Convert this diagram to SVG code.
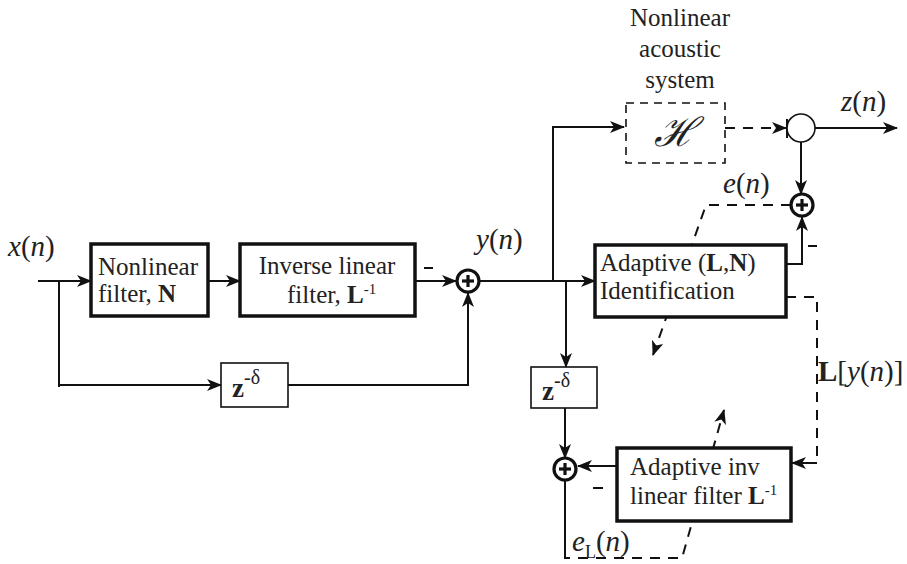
<svg xmlns="http://www.w3.org/2000/svg" width="907" height="564" viewBox="0 0 907 564">
<defs>
<marker id="ah" markerUnits="userSpaceOnUse" markerWidth="16" markerHeight="12" refX="14" refY="6" orient="auto">
<path d="M0,0 L15,6 L0,12 L4,6 Z" fill="#111"/>
</marker>
<style>
.ln{fill:none;stroke:#111;stroke-width:2}
.ds{fill:none;stroke:#111;stroke-width:2;stroke-dasharray:10,8}
.box{fill:#fff;stroke:#111;stroke-width:3.5}
.zb{fill:#fff;stroke:#111;stroke-width:1.6}
.sum{fill:#fff;stroke:#111;stroke-width:3.2}
.pl{stroke:#111;stroke-width:3.2}
text{font-family:'Liberation Serif','Times New Roman',serif;fill:#222}
.t{font-size:25px}
.m{font-size:29px}
.i{font-style:italic}
.b{font-weight:bold}
</style>
</defs>

<g id="connectors">
<line class="ln" x1="38" y1="281" x2="91" y2="281" marker-end="url(#ah)"/>
<polyline class="ln" points="59,281 59,387"/>
<line class="ln" x1="59" y1="385" x2="221" y2="385" marker-end="url(#ah)"/>
<line class="ln" x1="208" y1="281" x2="240" y2="281" marker-end="url(#ah)"/>
<line class="ln" x1="415" y1="281" x2="456" y2="281" marker-end="url(#ah)"/>
<polyline class="ln" points="288,385 468,385 468,293" marker-end="url(#ah)"/>
<line class="ln" x1="480" y1="281" x2="595" y2="281" marker-end="url(#ah)"/>
<polyline class="ln" points="553,281 553,127 624,127" marker-end="url(#ah)"/>
<line class="ln" x1="566" y1="281" x2="566" y2="367" marker-end="url(#ah)"/>
<line class="ln" x1="565" y1="408" x2="565" y2="458" marker-end="url(#ah)"/>
<line class="ln" x1="617" y1="466" x2="578" y2="466" marker-end="url(#ah)"/>
<polyline class="ln" points="565,481 565,558 570,558"/>
<polyline class="ds" points="578,558 682,558 724,410" marker-end="url(#ah)"/>
<polyline class="ln" points="786,264 802,264 802,217" marker-end="url(#ah)"/>
<polyline class="ds" points="791,205 706,205 653,355" marker-end="url(#ah)"/>
<polyline class="ds" points="786,297 817,297 817,463"/>
<line class="ln" x1="817" y1="463" x2="792" y2="463" marker-end="url(#ah)"/>
<line class="ds" x1="725" y1="128" x2="786" y2="128" marker-end="url(#ah)"/>
<line class="ln" x1="787" y1="119" x2="787" y2="138"/>
<line class="ln" x1="815" y1="128" x2="897" y2="128" marker-end="url(#ah)"/>
<line class="ln" x1="801" y1="142" x2="801" y2="194" marker-end="url(#ah)"/>
<line class="ln" x1="424" y1="268" x2="433" y2="268"/>
<line class="ln" x1="593" y1="488" x2="603" y2="488"/>
<line class="ln" x1="808" y1="246" x2="817" y2="246"/>
</g>

<g id="nonlinear-filter">
<rect class="box" x="91" y="244" width="117" height="72"/>
<text class="t" x="98" y="275">Nonlinear</text>
<text class="t" x="98" y="302">filter, <tspan class="b">N</tspan></text>
</g>

<g id="inverse-linear-filter">
<rect class="box" x="240" y="244" width="175" height="72"/>
<text class="t" x="327" y="274" text-anchor="middle">Inverse linear</text>
<text class="t" x="287" y="303">filter, <tspan class="b">L</tspan><tspan font-size="15" dy="-9">-1</tspan></text>
</g>

<g id="delay1">
<rect class="zb" x="221" y="363" width="67" height="44"/>
<text class="t" x="232" y="397"><tspan class="b" font-size="27">z</tspan><tspan font-size="20" dy="-13">-δ</tspan></text>
</g>

<g id="sum1">
<circle class="sum" cx="468" cy="281" r="11"/>
<line class="pl" x1="462" y1="281" x2="474" y2="281"/>
<line class="pl" x1="468" y1="275" x2="468" y2="287"/>
</g>

<g id="adaptive-identification">
<rect class="box" x="595" y="245" width="191" height="72"/>
<text class="t" x="600" y="271">Adaptive (<tspan class="b">L</tspan>,<tspan class="b">N</tspan>)</text>
<text class="t" x="600" y="299">Identification</text>
</g>

<g id="delay2">
<rect class="zb" x="531" y="367" width="66" height="41"/>
<text class="t" x="542" y="400"><tspan class="b" font-size="27">z</tspan><tspan font-size="20" dy="-13">-δ</tspan></text>
</g>

<g id="sum2">
<circle class="sum" cx="565" cy="469" r="11"/>
<line class="pl" x1="559" y1="469" x2="571" y2="469"/>
<line class="pl" x1="565" y1="463" x2="565" y2="475"/>
</g>

<g id="adaptive-inv-filter">
<rect class="box" x="617" y="448" width="174" height="73"/>
<text class="t" x="630" y="475">Adaptive inv</text>
<text class="t" x="630" y="504">linear filter <tspan class="b">L</tspan><tspan font-size="15" dy="-9">-1</tspan></text>
</g>

<g id="acoustic-system">
<rect x="626" y="103" width="99" height="60" fill="#fff" stroke="#111" stroke-width="1.6" stroke-dasharray="8,6"/>
<text x="675" y="146" text-anchor="middle" style="font-family:'DejaVu Serif',serif" font-style="italic" font-size="40" fill="#111">ℋ</text>
<text class="t" x="680" y="26" text-anchor="middle" font-size="27">Nonlinear</text>
<text class="t" x="680" y="57" text-anchor="middle" font-size="27">acoustic</text>
<text class="t" x="680" y="88" text-anchor="middle" font-size="27">system</text>
</g>

<g id="output-node">
<circle cx="801" cy="128" r="14" fill="#fff" stroke="#111" stroke-width="1.6"/>
</g>

<g id="sum3">
<circle class="sum" cx="802" cy="205" r="11"/>
<line class="pl" x1="796" y1="205" x2="808" y2="205"/>
<line class="pl" x1="802" y1="199" x2="802" y2="211"/>
</g>

<g id="labels">
<text class="m" x="8" y="256"><tspan class="i">x</tspan>(<tspan class="i">n</tspan>)</text>
<text class="m" x="476" y="249"><tspan class="i">y</tspan>(<tspan class="i">n</tspan>)</text>
<text class="m" x="841" y="111"><tspan class="i">z</tspan>(<tspan class="i">n</tspan>)</text>
<text class="m" x="723" y="193"><tspan class="i">e</tspan>(<tspan class="i">n</tspan>)</text>
<text class="m" x="818" y="381"><tspan class="b">L</tspan>[<tspan class="i">y</tspan>(<tspan class="i">n</tspan>)]</text>
<text class="m" x="572" y="551"><tspan class="i">e</tspan><tspan font-size="18" dy="7">L</tspan><tspan dy="-7">(</tspan><tspan class="i">n</tspan>)</text>
</g>
</svg>
